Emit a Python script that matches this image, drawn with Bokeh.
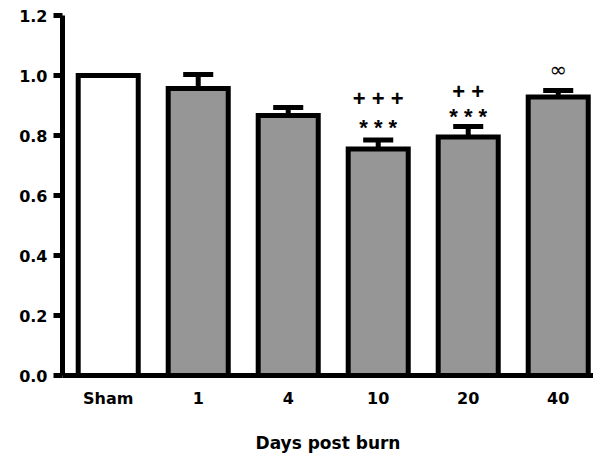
from bokeh.plotting import figure
from bokeh.models import FixedTicker, Range1d
from bokeh.core.properties import value
from bokeh.embed import file_html
from bokeh.resources import INLINE

# ---- data ----
categories = ["Sham", "1", "4", "10", "20", "40"]
means = [1.0, 0.957, 0.867, 0.755, 0.795, 0.928]
errors = [0.0, 0.046, 0.026, 0.030, 0.035, 0.022]
fills = ["white", "#969696", "#969696", "#969696", "#969696", "#969696"]

# significance marks: (category index, text, y position in data units)
mark_idx = [3, 3, 4, 4]
mark_text = ["+ + +", "* * *", "+ +", "* * *"]
mark_y = [0.922, 0.828, 0.947, 0.862]
inf_idx = [5]
inf_text = ["\u221e"]
inf_y = [1.017]

y_ticks = [0.0, 0.2, 0.4, 0.6, 0.8, 1.0, 1.2]

xs = list(range(len(categories)))

p = figure(width=593, height=464, output_backend="svg", toolbar_location=None,
           x_range=Range1d(-0.508, 5.392), y_range=Range1d(0, 1.2),
           min_border_left=62, min_border_right=0, min_border_top=15,
           min_border_bottom=89)
p.outline_line_color = None
p.xgrid.visible = False
p.ygrid.visible = False
p.background_fill_color = "white"
p.border_fill_color = "white"

# error bars (upper only)
tops = [m + e for m, e in zip(means, errors)]
ex = [x for x, e in zip(xs, errors) if e > 0]
em = [m for m, e in zip(means, errors) if e > 0]
et = [t for t, e in zip(tops, errors) if e > 0]
p.segment(x0=ex, y0=em, x1=ex, y1=et, line_color="black", line_width=5)
p.segment(x0=[x - 0.167 for x in ex], y0=et, x1=[x + 0.167 for x in ex], y1=et,
          line_color="black", line_width=5, line_cap="butt")

# bars
p.vbar(x=xs, top=means, bottom=0, width=0.667, fill_color=fills,
       line_color="black", line_width=5, line_join="miter")

# significance marks
p.text(x=[xs[i] for i in mark_idx], y=mark_y, text=mark_text,
       text_align="center", text_baseline="middle",
       text_font=value("Liberation Sans"), text_font_size="22px",
       text_font_style="bold", text_color="black")
p.text(x=[xs[i] for i in inf_idx], y=inf_y, text=inf_text,
       text_align="center", text_baseline="middle",
       text_font=value("DejaVu Sans"), text_font_size="21px",
       text_color="black")

# axes
p.yaxis.ticker = FixedTicker(ticks=y_ticks)
p.yaxis.major_label_overrides = {t: f"{t:.1f}" for t in y_ticks}
p.yaxis.axis_line_width = 5
p.yaxis.major_tick_line_width = 5
p.yaxis.major_tick_out = 9
p.yaxis.major_tick_in = 0
p.yaxis.minor_tick_line_color = None
p.yaxis.major_label_text_font = "DejaVu Sans"
p.yaxis.major_label_text_font_style = "bold"
p.yaxis.major_label_text_font_size = "16px"
p.yaxis.major_label_text_color = "black"
p.yaxis.major_label_standoff = 6

p.xaxis.ticker = FixedTicker(ticks=xs)
p.xaxis.major_label_overrides = {i: c for i, c in enumerate(categories)}
p.xaxis.axis_line_width = 5
p.xaxis.major_tick_line_color = None
p.xaxis.minor_tick_line_color = None
p.xaxis.major_label_text_font = "DejaVu Sans"
p.xaxis.major_label_text_font_style = "bold"
p.xaxis.major_label_text_font_size = "16px"
p.xaxis.major_label_text_color = "black"
p.xaxis.major_label_standoff = 7
p.xaxis.axis_label = "Days post burn"
p.xaxis.axis_label_text_font = "DejaVu Sans"
p.xaxis.axis_label_text_font_style = "bold"
p.xaxis.axis_label_text_font_size = "17px"
p.xaxis.axis_label_text_color = "black"
p.xaxis.axis_label_standoff = 22

open("out.html", "w").write(file_html(p, INLINE))
